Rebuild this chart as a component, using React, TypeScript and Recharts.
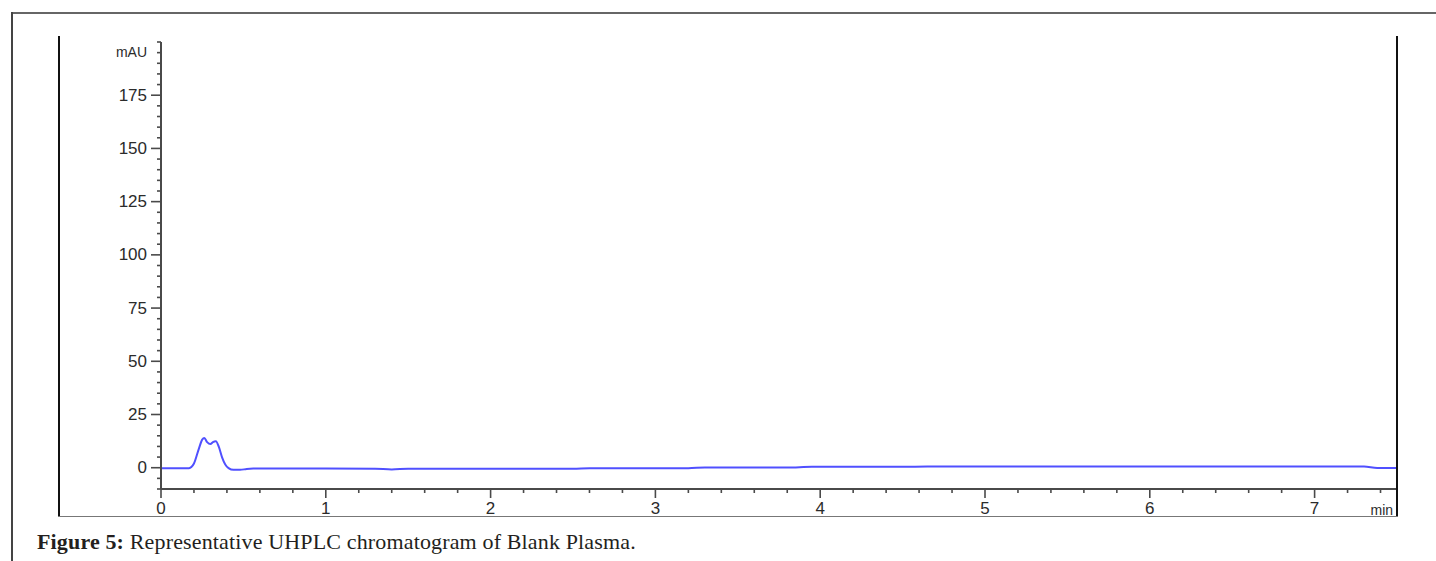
import { Line, LineChart, XAxis, YAxis } from "recharts";

// retention time (min) and detector signal (mAU)
const times = [
  0, 0.1, 0.17, 0.2, 0.23, 0.25, 0.263, 0.28, 0.3, 0.315, 0.333, 0.35, 0.37,
  0.39, 0.41, 0.44, 0.48, 0.52, 0.56, 1.0, 1.3, 1.4, 1.5, 2.0, 2.5, 2.6, 3.0,
  3.2, 3.3, 3.8, 3.95, 4.5, 4.65, 5.5, 6.5, 7.3, 7.38, 7.5,
];
const signal = [
  -0.3, -0.3, -0.2, 2, 9, 13.2, 14, 12, 11.1, 12, 12.4, 10, 5, 1.5, -0.2, -1,
  -1, -0.6, -0.4, -0.4, -0.5, -0.8, -0.5, -0.5, -0.5, -0.2, -0.2, -0.2, 0.1,
  0.1, 0.4, 0.4, 0.6, 0.6, 0.6, 0.6, -0.1, -0.1,
];

const xMajorTicks = [0, 1, 2, 3, 4, 5, 6, 7];
const yMajorTicks = [0, 25, 50, 75, 100, 125, 150, 175];
const xUnit = "min";
const yUnit = "mAU";
const figureLabel = "Figure 5:";
const figureText = "Representative UHPLC chromatogram of Blank Plasma.";

const data = times.map((t, i) => ({ t, v: signal[i] }));

// minor ticks every 0.2 min and every 5 mAU
const xTicks = Array.from({ length: 38 }, (_, i) => Math.round(i * 2) / 10);
const yTicks = Array.from({ length: 43 }, (_, i) => -10 + i * 5);

const axisColor = "#4a4a4a";
const labelColor = "#2b2b2b";
const tickFont = "'Liberation Sans', Arial, sans-serif";

const XTick = (props: any) => {
  const { x, y, payload } = props;
  const v = payload.value;
  const major = xMajorTicks.includes(v);
  return (
    <g>
      <line
        x1={x}
        x2={x}
        y1={y}
        y2={y + (major ? 9 : 4)}
        stroke={axisColor}
        strokeWidth={1.6}
      />
      {major && (
        <text
          x={x}
          y={y + 25}
          textAnchor="middle"
          fontSize={17}
          fontFamily={tickFont}
          fill={labelColor}
        >
          {v}
        </text>
      )}
      {Math.abs(v - 7.4) < 1e-6 && (
        <text
          x={x - 10}
          y={y + 26}
          fontSize={14}
          fontFamily={tickFont}
          fill={labelColor}
        >
          {xUnit}
        </text>
      )}
    </g>
  );
};

const YTick = (props: any) => {
  const { x, y, payload } = props;
  const v = payload.value;
  const major = yMajorTicks.includes(v);
  return (
    <g>
      <line
        x1={x - (major ? 10 : 4)}
        x2={x}
        y1={y}
        y2={y}
        stroke={axisColor}
        strokeWidth={1.6}
      />
      {major && (
        <text
          x={x - 14}
          y={y}
          textAnchor="end"
          dominantBaseline="central"
          fontSize={17}
          fontFamily={tickFont}
          fill={labelColor}
        >
          {v}
        </text>
      )}
      {v === 200 && (
        <text
          x={x - 14}
          y={y + 10}
          textAnchor="end"
          dominantBaseline="central"
          fontSize={14}
          fontFamily={tickFont}
          fill={labelColor}
        >
          {yUnit}
        </text>
      )}
    </g>
  );
};

const box = (style: React.CSSProperties) => (
  <div style={{ position: "absolute", ...style }} />
);

export default function App() {
  return (
    <div
      style={{
        position: "absolute",
        left: 0,
        top: 0,
        width: 1436,
        height: 561,
        background: "#fff",
        overflow: "hidden",
      }}
    >
      <LineChart
        width={1436}
        height={561}
        data={data}
        margin={{ top: 42, right: 39, bottom: 42, left: 101 }}
      >
        <XAxis
          type="number"
          dataKey="t"
          domain={[0, 7.5]}
          ticks={xTicks}
          interval={0}
          height={30}
          tickSize={0}
          tickMargin={0}
          tickLine={false}
          axisLine={{ stroke: axisColor, strokeWidth: 2 }}
          tick={<XTick />}
        />
        <YAxis
          type="number"
          domain={[-10, 200]}
          ticks={yTicks}
          interval={0}
          width={60}
          tickSize={0}
          tickMargin={0}
          tickLine={false}
          axisLine={{ stroke: axisColor, strokeWidth: 2 }}
          tick={<YTick />}
        />
        <Line
          type="monotone"
          dataKey="v"
          stroke="#5050ff"
          strokeWidth={2}
          dot={false}
          isAnimationActive={false}
        />
      </LineChart>

      {/* figure frame */}
      {box({ left: 12, top: 12, width: 1424, height: 2, background: "#666" })}
      {box({ left: 11, top: 12, width: 2, height: 549, background: "#444" })}
      {box({ left: 58, top: 36, width: 2, height: 481, background: "#111" })}
      {box({ left: 1396, top: 36, width: 2, height: 481, background: "#111" })}
      {box({ left: 1398, top: 36, width: 38, height: 481, background: "#fff" })}
      {box({ left: 58, top: 516, width: 1340, height: 1, background: "#777" })}

      <div
        style={{
          position: "absolute",
          left: 37,
          top: 530,
          fontFamily: "'Liberation Serif', 'Times New Roman', serif",
          fontSize: 22,
          letterSpacing: 0.15,
          color: "#231f20",
          whiteSpace: "nowrap",
          lineHeight: "24px",
        }}
      >
        <b>{figureLabel}</b> {figureText}
      </div>
    </div>
  );
}
